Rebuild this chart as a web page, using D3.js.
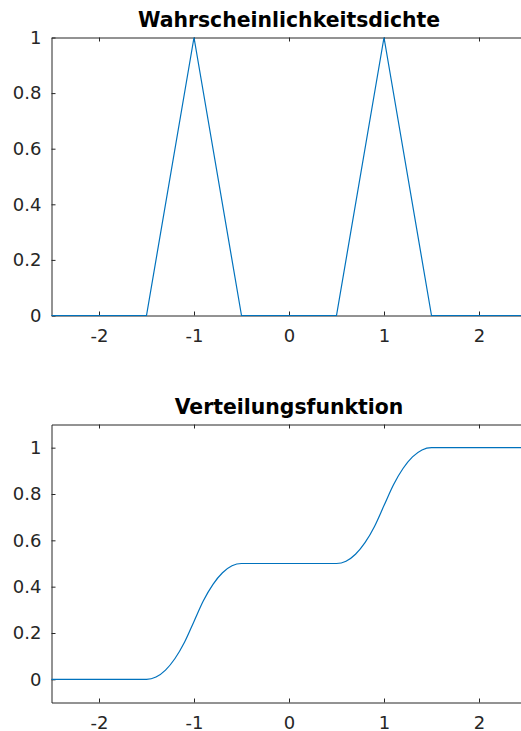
<!DOCTYPE html>
<html>
<head>
<meta charset="utf-8">
<script src="https://cdn.jsdelivr.net/npm/d3@7"></script>
<style>
  html, body { margin: 0; padding: 0; background: #fff; }
  svg { display: block; }
</style>
</head>
<body>
<svg id="chart" width="521" height="731"></svg>
<script>
// Dichte: zwei Dreiecke um -1 und +1 (Knickpunkte)
const xDensity = [-2.5, -1.5, -1, -0.5, 0.5, 1, 1.5, 2.5];
const yDensity = [0, 0, 1, 0, 0, 1, 0, 0];

// Verteilungsfunktion an Stützstellen
const xCdf = [-2.5, -1.5, -1.4, -1.3, -1.2, -1.1, -1.0, -0.9, -0.8, -0.7, -0.6, -0.5,
              0.5, 0.6, 0.7, 0.8, 0.9, 1.0, 1.1, 1.2, 1.3, 1.4, 1.5, 2.5];
const yCdf = [0, 0, 0.01, 0.04, 0.09, 0.16, 0.25, 0.34, 0.41, 0.46, 0.49, 0.5,
              0.5, 0.51, 0.54, 0.59, 0.66, 0.75, 0.84, 0.91, 0.96, 0.99, 1.0, 1.0];

const xTicks = [-2, -1, 0, 1, 2];
const yTicks = [0, 0.2, 0.4, 0.6, 0.8, 1];
const titles = ["Wahrscheinlichkeitsdichte", "Verteilungsfunktion"];

const axisColor = "#262626";
const lineColor = "#0072BD";
const font = "'DejaVu Sans', sans-serif";

const svg = d3.select("#chart");
svg.append("rect").attr("width", 521).attr("height", 731).attr("fill", "#fff");

const left = 51.5, right = 526.5;

function panel(top, bottom, yDomain, xs, ys, title, curve) {
  const x = d3.scaleLinear().domain([-2.5, 2.5]).range([left, right]);
  const y = d3.scaleLinear().domain(yDomain).range([bottom, top]);
  const g = svg.append("g");

  const fmt = d => String(d);

  const axB = g.append("g").attr("transform", `translate(0,${bottom})`)
    .call(d3.axisBottom(x).tickValues(xTicks).tickFormat(fmt)
      .tickSizeInner(-4).tickSizeOuter(0).tickPadding(14));
  const axT = g.append("g").attr("transform", `translate(0,${top})`)
    .call(d3.axisTop(x).tickValues(xTicks).tickFormat("")
      .tickSizeInner(-4).tickSizeOuter(0));
  const axL = g.append("g").attr("transform", `translate(${left},0)`)
    .call(d3.axisLeft(y).tickValues(yTicks).tickFormat(fmt)
      .tickSizeInner(-4).tickSizeOuter(0).tickPadding(10));
  const axR = g.append("g").attr("transform", `translate(${right},0)`)
    .call(d3.axisRight(y).tickValues(yTicks).tickFormat("")
      .tickSizeInner(-4).tickSizeOuter(0));

  [axB, axT, axL, axR].forEach(a => {
    a.attr("font-family", font).attr("font-size", 18);
    a.selectAll("path, line").attr("stroke", axisColor).attr("stroke-width", 1);
    a.selectAll("text").attr("fill", axisColor);
  });

  const pts = xs.map((v, i) => [v, ys[i]]);
  const line = d3.line().x(d => x(d[0])).y(d => y(d[1])).curve(curve);
  g.append("path").datum(pts)
    .attr("d", line)
    .attr("fill", "none")
    .attr("stroke", lineColor)
    .attr("stroke-width", 1.2);

  g.append("text")
    .attr("x", (left + right) / 2)
    .attr("y", top - 10.7)
    .attr("text-anchor", "middle")
    .attr("font-family", font)
    .attr("font-weight", "bold")
    .attr("font-size", 20.4)
    .attr("fill", "#000")
    .text(title);
}

panel(37.5, 315.5, [0, 1], xDensity, yDensity, titles[0], d3.curveLinear);
panel(424.5, 702.5, [-0.1, 1.1], xCdf, yCdf, titles[1], d3.curveMonotoneX);
</script>
</body>
</html>
